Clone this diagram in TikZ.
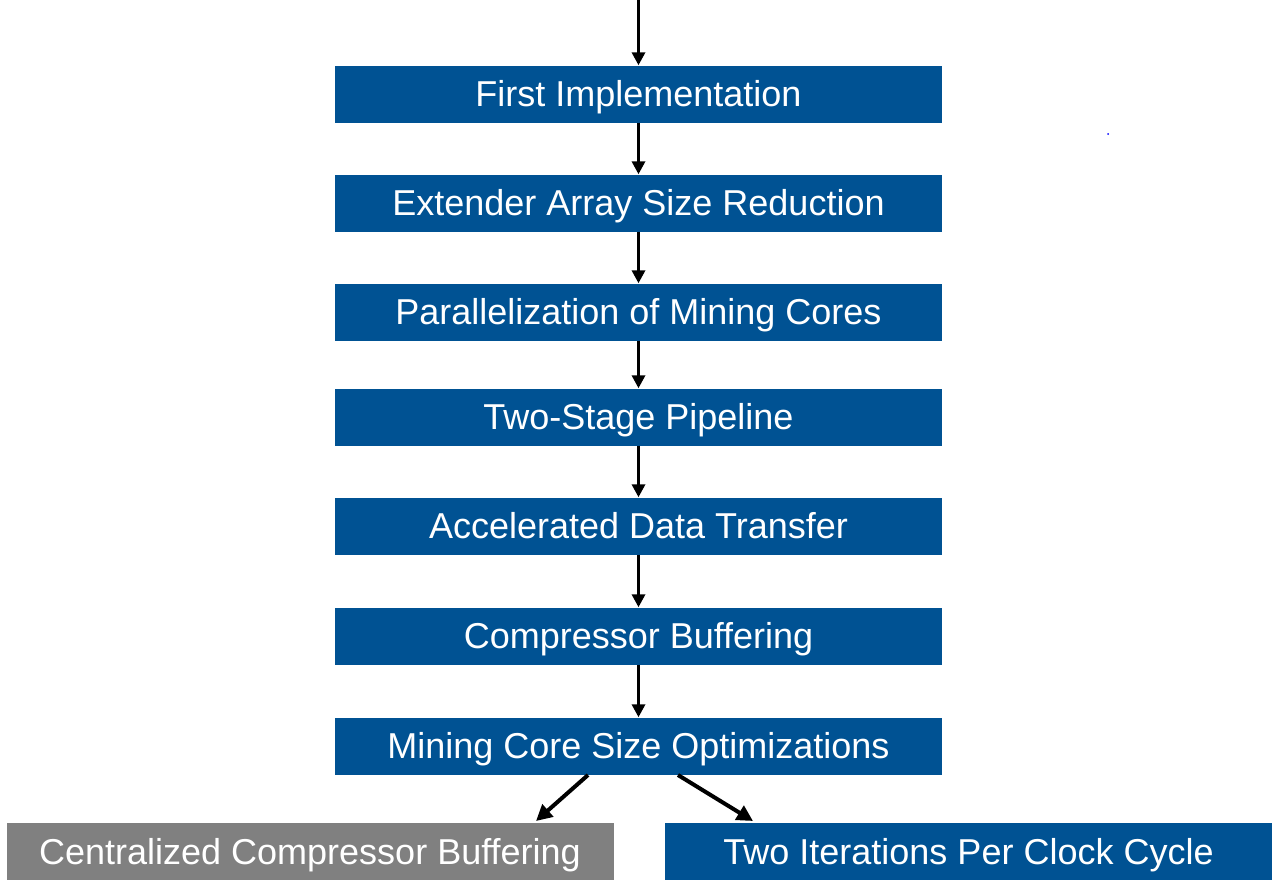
\documentclass[tikz,border=0pt]{standalone}
\usepackage{fontspec}
\setmainfont{Liberation Sans}
\usetikzlibrary{arrows.meta}
\definecolor{boxblue}{RGB}{0,82,147}
\definecolor{boxgray}{RGB}{128,128,128}
\begin{document}
\begin{tikzpicture}[x=1pt,y=-1pt,
  stepbox/.style={fill=boxblue,text=white,minimum width=607pt,minimum height=57pt,inner sep=0pt,text height=25pt,text depth=0pt,font=\fontsize{36}{42}\selectfont},
  graybox/.style={stepbox,fill=boxgray},
  arr/.style={line width=3.2pt,-{Triangle[width=13pt,length=13pt]}},
  darr/.style={line width=4pt,-{Triangle[width=16pt,length=16pt]}}]
\useasboundingbox (0,0) rectangle (1278,887);
\node[stepbox] (b1) at (638.5,94) {First Implementation};
\node[stepbox] (b2) at (638.5,203) {Extender Array Size Reduction};
\node[stepbox] (b3) at (638.5,312) {Parallelization of Mining Cores};
\node[stepbox] (b4) at (638.5,417) {Two-Stage Pipeline};
\node[stepbox] (b5) at (638.5,526) {Accelerated Data Transfer};
\node[stepbox] (b6) at (638.5,636) {Compressor Buffering};
\node[stepbox] (b7) at (638.5,746) {Mining Core Size Optimizations};
\node[graybox] (c1) at (310,851.5) {Centralized Compressor Buffering};
\node[stepbox] (c2) at (968.5,851.5) {Two Iterations Per Clock Cycle};
\coordinate (top) at (638.5,0);
\draw[arr] (top) -- (b1.north);
\draw[arr] (b1.south) -- (b2.north);
\draw[arr] (b2.south) -- (b3.north);
\draw[arr] (b3.south) -- (b4.north);
\draw[arr] (b4.south) -- (b5.north);
\draw[arr] (b5.south) -- (b6.north);
\draw[arr] (b6.south) -- (b7.north);
\coordinate (l1) at (588,775);
\coordinate (l2) at (536,821);
\coordinate (r1) at (678,775);
\coordinate (r2) at (753,821);
\draw[darr] (l1) -- (l2);
\draw[darr] (r1) -- (r2);
\fill[blue] (1108,134) circle (1pt);
\end{tikzpicture}
\end{document}
